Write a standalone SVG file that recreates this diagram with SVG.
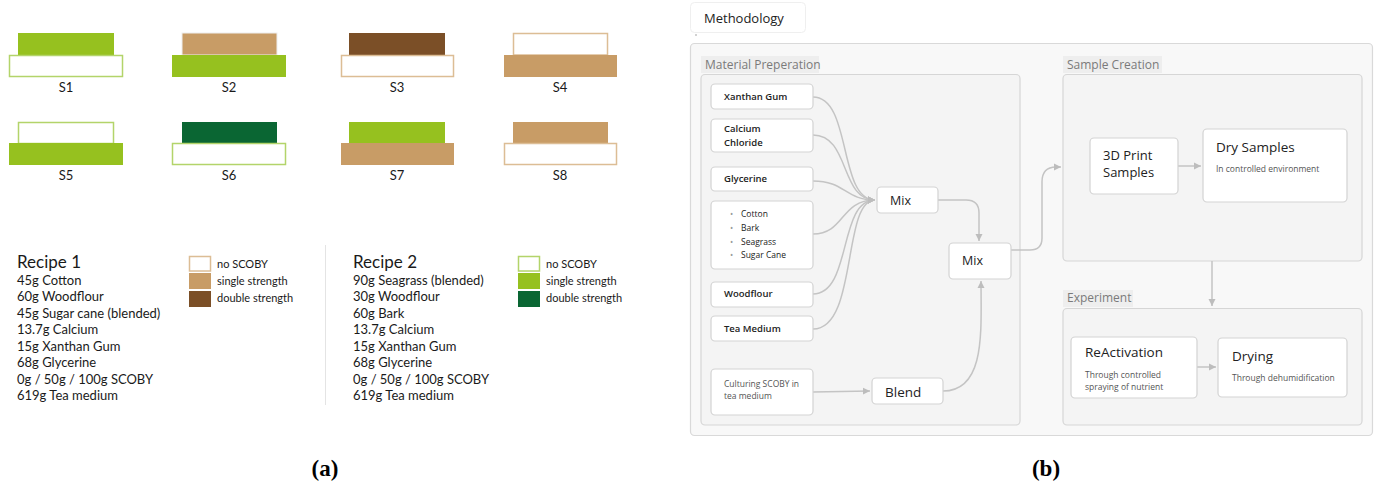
<svg xmlns="http://www.w3.org/2000/svg" width="1380" height="486" viewBox="0 0 1380 486">
  <style>
    .lt { font-family: Lato, "Liberation Sans", sans-serif; fill: #1a1a1a; }
    .rc { font-size: 13px; }
    .hd { font-size: 17px; }
    .lg { font-size: 11px; }
    .sl { font-size: 13px; text-anchor: middle; }
    .ui { font-family: "Open Sans", "Noto Sans", sans-serif; fill: #222; }
    .nd { fill: #ffffff; stroke: #d3d3d3; stroke-width: 1.2; }
    .grp { fill: #f4f4f4; stroke: #d6d6d6; stroke-width: 1.2; }
    .glab { fill: #eeeeee; }
    .gt { font-size: 12px; fill: #7a7a7a; }
    .b10 { font-size: 9.5px; font-weight: 600; }
    .sm { font-size: 8.5px; fill: #555; }
    .big { font-size: 13.5px; }
    .edge { fill: none; stroke: #c4c4c4; stroke-width: 1.5; }
    .cap { font-family: "Liberation Serif", serif; font-weight: bold; font-size: 23px; text-anchor: middle; fill: #000; }
    .gr { fill: #96c11f; }
    .grb { fill: #ffffff; stroke: #b3d46a; stroke-width: 1.5; }
    .dg { fill: #0a6633; }
    .tn { fill: #c89c66; }
    .tnb { fill: #ffffff; stroke: #dcbd95; stroke-width: 1.5; }
    .br { fill: #7b4f27; }
  </style>
  <defs>
    <marker id="arr" markerWidth="8" markerHeight="8" refX="7" refY="4" orient="auto" markerUnits="userSpaceOnUse">
      <path d="M0,0.5 L7,4 L0,7.5 z" fill="#bdbdbd"/>
    </marker>
  </defs>

  <rect width="1380" height="486" fill="#ffffff"/>

  <!-- sample swatches -->
  <g id="s1">
    <rect class="gr" x="18" y="33" width="96" height="22"/>
    <rect class="grb" x="9.5" y="55.5" width="113" height="21"/>
    <text class="lt sl" x="66" y="92">S1</text>
  </g>
  <g id="s2">
    <rect class="tn" x="182" y="33" width="95" height="22" stroke="#eee" stroke-width="1"/>
    <rect class="gr" x="172" y="55" width="114" height="22"/>
    <text class="lt sl" x="229" y="92">S2</text>
  </g>
  <g id="s3">
    <rect class="br" x="349" y="33" width="96" height="22"/>
    <rect class="tnb" x="341.5" y="55.5" width="112" height="21"/>
    <text class="lt sl" x="397" y="92">S3</text>
  </g>
  <g id="s4">
    <rect class="tnb" x="513.5" y="33.5" width="94" height="21.5"/>
    <rect class="tn" x="504" y="55" width="113" height="22"/>
    <text class="lt sl" x="560" y="92">S4</text>
  </g>
  <g id="s5">
    <rect class="grb" x="18.5" y="122.5" width="95" height="21"/>
    <rect class="gr" x="9" y="143" width="114" height="22"/>
    <text class="lt sl" x="66" y="180">S5</text>
  </g>
  <g id="s6">
    <rect class="dg" x="182" y="122" width="95" height="21"/>
    <rect class="grb" x="172.5" y="143.5" width="113" height="21"/>
    <text class="lt sl" x="229" y="180">S6</text>
  </g>
  <g id="s7">
    <rect class="gr" x="349" y="122" width="96" height="21"/>
    <rect class="tn" x="341" y="143" width="113" height="22"/>
    <text class="lt sl" x="397" y="180">S7</text>
  </g>
  <g id="s8">
    <rect class="tn" x="513" y="122" width="95" height="21"/>
    <rect class="tnb" x="504.5" y="143.5" width="112" height="21"/>
    <text class="lt sl" x="560" y="180">S8</text>
  </g>

  <!-- recipe 1 -->
  <g id="recipe1" class="lt rc">
    <text class="hd" x="17" y="268">Recipe 1</text>
    <text x="17" y="284.5">45g Cotton</text>
    <text x="17" y="301">60g Woodflour</text>
    <text x="17" y="317.5">45g Sugar cane (blended)</text>
    <text x="17" y="334">13.7g Calcium</text>
    <text x="17" y="350.5">15g Xanthan Gum</text>
    <text x="17" y="367">68g Glycerine</text>
    <text x="17" y="383.5">0g / 50g / 100g SCOBY</text>
    <text x="17" y="400">619g Tea medium</text>
  </g>
  <g id="legend1">
    <rect class="tnb" x="189.5" y="256.5" width="21" height="14.5"/>
    <rect class="tn" x="189" y="273" width="22" height="16"/>
    <rect class="br" x="189" y="291" width="22" height="16"/>
    <text class="lt lg" x="217" y="268">no SCOBY</text>
    <text class="lt lg" x="217" y="285">single strength</text>
    <text class="lt lg" x="217" y="302">double strength</text>
  </g>

  <line x1="325.5" y1="245" x2="325.5" y2="405" stroke="#e4e4e4" stroke-width="1"/>

  <!-- recipe 2 -->
  <g id="recipe2" class="lt rc">
    <text class="hd" x="353" y="268">Recipe 2</text>
    <text x="353" y="284.5">90g Seagrass (blended)</text>
    <text x="353" y="301">30g Woodflour</text>
    <text x="353" y="317.5">60g Bark</text>
    <text x="353" y="334">13.7g Calcium</text>
    <text x="353" y="350.5">15g Xanthan Gum</text>
    <text x="353" y="367">68g Glycerine</text>
    <text x="353" y="383.5">0g / 50g / 100g SCOBY</text>
    <text x="353" y="400">619g Tea medium</text>
  </g>
  <g id="legend2">
    <rect class="grb" x="518.5" y="256.5" width="21" height="14.5"/>
    <rect class="gr" x="518" y="273" width="22" height="16"/>
    <rect class="dg" x="518" y="291" width="22" height="16"/>
    <text class="lt lg" x="546" y="268">no SCOBY</text>
    <text class="lt lg" x="546" y="285">single strength</text>
    <text class="lt lg" x="546" y="302">double strength</text>
  </g>

  <!-- methodology flowchart -->
  <g id="title">
    <rect x="690.5" y="2.5" width="115" height="30" rx="4" fill="#fff" stroke="#efefef"/>
    <text class="ui" x="704" y="23" font-size="13">Methodology</text>
    <circle cx="696" cy="35" r="0.8" fill="#999"/>
  </g>

  <g id="methodology">
    <rect x="690.5" y="43.5" width="682" height="392" rx="4" fill="#f8f8f8" stroke="#d9d9d9" stroke-width="1.2"/>
  </g>

  <g id="material-preparation">
    <rect class="glab" x="701" y="56" width="118" height="17"/>
    <text class="ui gt" x="705" y="68.5">Material Preperation</text>
    <rect class="grp" x="701" y="74.5" width="319" height="350.5" rx="4"/>
  </g>

  <g id="sample-creation">
    <rect class="glab" x="1063" y="56" width="99" height="17"/>
    <text class="ui gt" x="1067" y="68.5">Sample Creation</text>
    <rect class="grp" x="1063" y="74.5" width="299" height="186.5" rx="4"/>
  </g>

  <g id="experiment">
    <rect class="glab" x="1063" y="290" width="70" height="17"/>
    <text class="ui gt" x="1067" y="302">Experiment</text>
    <rect class="grp" x="1063" y="308.5" width="299" height="116.5" rx="4"/>
  </g>

  <!-- connectors -->
  <g id="connectors">
    <path class="edge" d="M813,97 C852,97 838,200 875,200" marker-end="url(#arr)"/>
    <path class="edge" d="M813,135 C850,135 840,200 875,200" marker-end="url(#arr)"/>
    <path class="edge" d="M813,181 C845,181 845,200 875,200" marker-end="url(#arr)"/>
    <path class="edge" d="M813,234 C845,234 840,200 875,200" marker-end="url(#arr)"/>
    <path class="edge" d="M813,294 C852,294 838,200 875,200" marker-end="url(#arr)"/>
    <path class="edge" d="M813,329 C858,329 842,200 875,200" marker-end="url(#arr)"/>
    <path class="edge" d="M813,392 L870,391" marker-end="url(#arr)"/>
    <path class="edge" d="M938,200 L966,200 Q979,200 979,213 L979,241" marker-end="url(#arr)"/>
    <path class="edge" d="M943,391 C986,391 981,330 981,281" marker-end="url(#arr)"/>
    <path class="edge" d="M1011,250 L1030,250 Q1042,250 1042,238 L1042,182 Q1042,167 1056,167 L1061,167" marker-end="url(#arr)"/>
    <path class="edge" d="M1178,166 L1201,166" marker-end="url(#arr)"/>
    <path class="edge" d="M1212,261 L1212,306" marker-end="url(#arr)"/>
    <path class="edge" d="M1197,367 L1216,367" marker-end="url(#arr)"/>
  </g>

  <!-- nodes -->
  <g id="xanthan-gum">
    <rect class="nd" x="711" y="84" width="102" height="25" rx="4"/>
    <text class="ui b10" x="724" y="100">Xanthan Gum</text>
  </g>
  <g id="calcium-chloride">
    <rect class="nd" x="711" y="119" width="102" height="33" rx="4"/>
    <text class="ui b10" x="724" y="132">Calcium</text>
    <text class="ui b10" x="724" y="146">Chloride</text>
  </g>
  <g id="glycerine">
    <rect class="nd" x="711" y="167" width="102" height="24" rx="4"/>
    <text class="ui b10" x="724" y="182">Glycerine</text>
  </g>
  <g id="fibres">
    <rect class="nd" x="711" y="201" width="102" height="68" rx="4"/>
    <g class="ui" font-size="8.5" fill="#555">
      <text x="730" y="217" fill="#999">•</text><text x="741" y="217">Cotton</text>
      <text x="730" y="231" fill="#999">•</text><text x="741" y="231">Bark</text>
      <text x="730" y="245" fill="#999">•</text><text x="741" y="245">Seagrass</text>
      <text x="730" y="258" fill="#999">•</text><text x="741" y="258">Sugar Cane</text>
    </g>
  </g>
  <g id="woodflour">
    <rect class="nd" x="711" y="282" width="102" height="25" rx="4"/>
    <text class="ui b10" x="724" y="297">Woodflour</text>
  </g>
  <g id="tea-medium">
    <rect class="nd" x="711" y="316" width="102" height="25" rx="4"/>
    <text class="ui b10" x="724" y="332">Tea Medium</text>
  </g>
  <g id="culturing-scoby">
    <rect class="nd" x="711" y="369" width="102" height="46" rx="4"/>
    <text class="ui sm" x="724" y="387">Culturing SCOBY in</text>
    <text class="ui sm" x="724" y="399">tea medium</text>
  </g>
  <g id="blend">
    <rect class="nd" x="872" y="378" width="71" height="26" rx="4"/>
    <text class="ui big" x="885" y="397">Blend</text>
  </g>
  <g id="mix-1">
    <rect class="nd" x="877" y="187" width="61" height="26" rx="4"/>
    <text class="ui" font-size="12.5" x="890" y="205">Mix</text>
  </g>
  <g id="mix-2">
    <rect class="nd" x="949" y="243" width="62" height="36" rx="4"/>
    <text class="ui" font-size="12.5" x="962" y="265">Mix</text>
  </g>
  <g id="print-samples">
    <rect class="nd" x="1090" y="138" width="88" height="56" rx="4"/>
    <text class="ui" font-size="13" x="1103" y="160">3D Print</text>
    <text class="ui" font-size="13" x="1103" y="177">Samples</text>
  </g>
  <g id="dry-samples">
    <rect class="nd" x="1203" y="129" width="144" height="73" rx="4"/>
    <text class="ui big" x="1216" y="152">Dry Samples</text>
    <text class="ui sm" x="1216" y="172" font-size="8">In controlled environment</text>
  </g>
  <g id="reactivation">
    <rect class="nd" x="1071" y="337" width="126" height="61" rx="4"/>
    <text class="ui big" x="1085" y="357">ReActivation</text>
    <text class="ui sm" x="1085" y="378" font-size="8">Through controlled</text>
    <text class="ui sm" x="1085" y="390" font-size="8">spraying of nutrient</text>
  </g>
  <g id="drying">
    <rect class="nd" x="1218" y="338" width="129" height="59" rx="4"/>
    <text class="ui big" x="1232" y="361">Drying</text>
    <text class="ui sm" x="1232" y="381" font-size="8">Through dehumidification</text>
  </g>

  <!-- panel captions -->
  <text class="cap" x="325" y="476">(a)</text>
  <text class="cap" x="1046" y="476">(b)</text>
</svg>
